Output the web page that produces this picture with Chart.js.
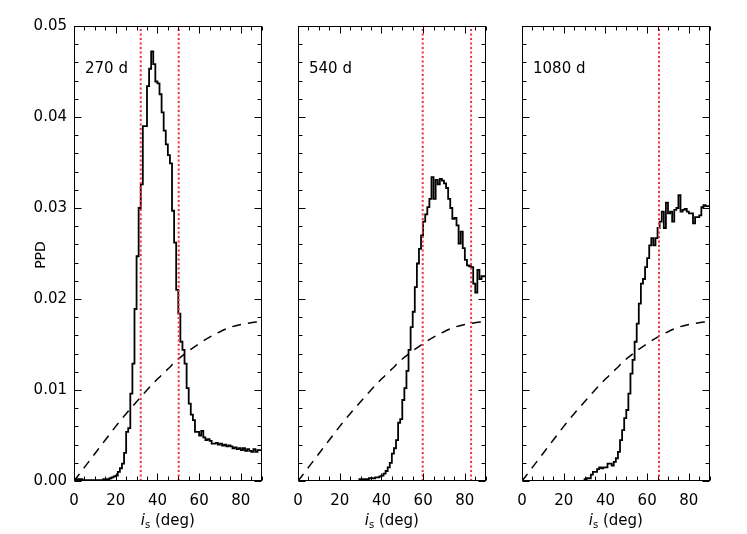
<!DOCTYPE html>
<html>
<head>
<meta charset="utf-8">
<script src="https://cdn.jsdelivr.net/npm/chart.js@4.4.1/dist/chart.umd.min.js"></script>
<style>
  body { margin: 0; background: #fff; }
  #wrap { position: relative; width: 747px; height: 534px; }
  #wrap canvas { position: absolute; left: 0; top: 0; }
</style>
</head>
<body>
<div id="wrap">
  <canvas id="c0" width="747" height="534"></canvas>
  <canvas id="c1" width="747" height="534"></canvas>
  <canvas id="c2" width="747" height="534"></canvas>
</div>
<script>
// --- Daten ---
const panelLabels = ['270 d', '540 d', '1080 d'];
const binWidth = 1; // deg

// PPD je 1-Grad-Bin, beginnend bei histStart
const histStart = [0, 29, 30];
const ppd270 = [
  0.0002, 0.0002, 0.0002, 0.0002, 0.0002, 0.0001, 0.0001, 0.0001, 0.0001, 0.0001,
  0.0001, 0.0001, 0.0001, 0.0001, 0.0001, 0.0002, 0.0002, 0.0002, 0.0003, 0.0004,
  0.0005, 0.0006, 0.0010, 0.0014, 0.0019, 0.0031, 0.0054, 0.0058, 0.0096, 0.0129,
  0.0189, 0.0247, 0.0300, 0.0326, 0.0390, 0.0390, 0.0434, 0.0453, 0.0472, 0.0458,
  0.0439, 0.0437, 0.0425, 0.0405, 0.0385, 0.0370, 0.0358, 0.0349, 0.0297, 0.0262,
  0.0210, 0.0184, 0.0153, 0.0144, 0.0129, 0.0102, 0.0085, 0.0073, 0.0067, 0.0054,
  0.0054, 0.0050, 0.0055, 0.0048, 0.0045, 0.0046, 0.0044, 0.0041, 0.0041, 0.0042,
  0.0040, 0.0041, 0.0039, 0.0040, 0.0038, 0.0039, 0.0038, 0.0036, 0.0037, 0.0035,
  0.0036, 0.0034, 0.0036, 0.0033, 0.0035, 0.0033, 0.0032, 0.0035, 0.0032, 0.0034
];
const ppd540 = [
  0.0002, 0.0002, 0.0002, 0.0002, 0.0002, 0.0002, 0.0003, 0.0003, 0.0003, 0.0004,
  0.0004, 0.0005, 0.0006, 0.0008, 0.0011, 0.0015, 0.0020, 0.0030, 0.0036, 0.0045,
  0.0064, 0.0068, 0.0089, 0.0102, 0.0121, 0.0144, 0.0169, 0.0186, 0.0213, 0.0239,
  0.0255, 0.0270, 0.0285, 0.0293, 0.0301, 0.0310, 0.0334, 0.0310, 0.0331, 0.0326,
  0.0332, 0.0330, 0.0327, 0.0322, 0.0310, 0.0300, 0.0288, 0.0289, 0.0281, 0.0261,
  0.0274, 0.0256, 0.0243, 0.0237, 0.0236, 0.0235, 0.0217, 0.0207, 0.0232, 0.0222,
  0.0225
];
const ppd1080 = [
  0.0001, 0.0002, 0.0003, 0.0003, 0.0007, 0.0010, 0.0010, 0.0013, 0.0015, 0.0014,
  0.0015, 0.0015, 0.0019, 0.0019, 0.0017, 0.0021, 0.0025, 0.0032, 0.0045, 0.0056,
  0.0069, 0.0078, 0.0096, 0.0118, 0.0133, 0.0153, 0.0173, 0.0195, 0.0217, 0.0222,
  0.0235, 0.0245, 0.0259, 0.0267, 0.0259, 0.0267, 0.0278, 0.0285, 0.0296, 0.0278,
  0.0306, 0.0294, 0.0296, 0.0285, 0.0298, 0.0300, 0.0314, 0.0296, 0.0298, 0.0299,
  0.0296, 0.0294, 0.0294, 0.0283, 0.0290, 0.0290, 0.0292, 0.0301, 0.0303, 0.0302
];

// gestrichelte Kurve (in allen drei Feldern gleich)
const priorAngles = [0, 5, 10, 15, 20, 25, 30, 35, 40, 45, 50, 55, 60, 65, 70, 75, 80, 85, 90];
const priorValues = [0, 0.0015, 0.0030, 0.0045, 0.0060, 0.0074, 0.0087, 0.0100, 0.0112, 0.0123,
  0.0134, 0.0143, 0.0151, 0.0158, 0.0164, 0.0169, 0.0172, 0.0174, 0.0175];

// rote gepunktete Linien (deg)
const redLines = [[32.0, 50.2], [59.8, 83.0], [65.7]];

const xTicks = [0, 20, 40, 60, 80];
const yTicks = [0, 0.01, 0.02, 0.03, 0.04, 0.05];
const xRange = [0, 90];
const yRange = [0, 0.05];

// --- Layout ---
const W = 747, H = 534;
const panelLeft = [74, 298, 522];
const panelWidth = 187.7;
const plotTop = 26, plotBottom = 481;
const FONT = '"DejaVu Sans", sans-serif';

const rahmenPlugin = {
  id: 'rahmen',
  afterDatasetsDraw(chart, args, opts) {
    const ctx = chart.ctx;
    const a = chart.chartArea;
    const xs = chart.scales.x, ys = chart.scales.y;
    ctx.save();
    ctx.strokeStyle = '#000';
    ctx.lineWidth = 1;
    const L = Math.round(a.left) + 0.5, R = Math.round(a.right) - 0.5;
    const T = Math.round(a.top) + 0.5, B = Math.round(a.bottom) - 0.5;
    ctx.strokeRect(L, T, R - L, B - T);

    // Striche nach innen, oben/unten
    ctx.beginPath();
    for (let v = xRange[0]; v <= xRange[1] + 1e-9; v += 5) {
      const px = Math.round(xs.getPixelForValue(v)) + 0.5;
      const len = (v % 20 === 0) ? 7 : 4;
      ctx.moveTo(px, B); ctx.lineTo(px, B - len);
      ctx.moveTo(px, T); ctx.lineTo(px, T + len);
    }
    for (let k = 0; k <= 25; k++) {
      const v = k * 0.002;
      const py = Math.round(ys.getPixelForValue(v)) + 0.5;
      const len = (k % 5 === 0) ? 7 : 4;
      ctx.moveTo(L, py); ctx.lineTo(L + len, py);
      ctx.moveTo(R, py); ctx.lineTo(R - len, py);
    }
    ctx.stroke();

    // Beschriftungen
    ctx.fillStyle = '#000';
    ctx.font = '15px ' + FONT;
    ctx.textBaseline = 'alphabetic';
    ctx.textAlign = 'left';
    ctx.fillText(opts.label, a.left + 11, 73);

    // x-Titel: i_s (deg)
    const cx = (a.left + a.right) / 2;
    ctx.font = 'italic 15px ' + FONT;
    const wi = ctx.measureText('i').width;
    ctx.font = '10px ' + FONT;
    const ws = ctx.measureText('s').width;
    ctx.font = '15px ' + FONT;
    const wd = ctx.measureText(' (deg)').width;
    let x0 = cx - (wi + ws + wd) / 2;
    ctx.font = 'italic 15px ' + FONT;
    ctx.fillText('i', x0, 525);
    ctx.font = '10px ' + FONT;
    ctx.fillText('s', x0 + wi, 528);
    ctx.font = '15px ' + FONT;
    ctx.fillText(' (deg)', x0 + wi + ws, 525);

    if (opts.yTitle) {
      ctx.translate(41, 255);
      ctx.rotate(-Math.PI / 2);
      ctx.textAlign = 'center';
      ctx.textBaseline = 'middle';
      ctx.font = '14px ' + FONT;
      ctx.fillText('PPD', 0, 0);
    }
    ctx.restore();
  }
};

function histPunkte(start, values) {
  const pts = values.map((v, i) => ({ x: start + i * binWidth, y: v }));
  pts.push({ x: start + values.length * binWidth, y: values[values.length - 1] });
  return pts;
}

function macheFeld(idx, values) {
  const left = panelLeft[idx];
  const right = left + panelWidth;
  const yAxisW = 40, xAxisH = H - plotBottom;

  const datasets = [];
  redLines[idx].forEach(v => {
    datasets.push({
      data: [{ x: v, y: yRange[0] }, { x: v, y: yRange[1] }],
      borderColor: '#ff2a2a',
      borderWidth: 2,
      borderDash: [2, 2.5],
      pointRadius: 0
    });
  });
  datasets.push({
    data: priorAngles.map((a, i) => ({ x: a, y: priorValues[i] })),
    borderColor: '#000',
    borderWidth: 1.5,
    borderDash: [9, 7],
    cubicInterpolationMode: 'monotone',
    pointRadius: 0
  });
  datasets.push({
    data: histPunkte(histStart[idx], values),
    borderColor: '#000',
    borderWidth: 1.8,
    stepped: 'after',
    pointRadius: 0
  });

  new Chart(document.getElementById('c' + idx), {
    type: 'line',
    data: { datasets },
    options: {
      responsive: false,
      animation: false,
      devicePixelRatio: 1,
      layout: { padding: { left: left - yAxisW, right: W - right, top: plotTop, bottom: 0 } },
      plugins: {
        legend: { display: false },
        tooltip: { enabled: false },
        rahmen: { label: panelLabels[idx], yTitle: idx === 0 }
      },
      scales: {
        x: {
          type: 'linear',
          min: xRange[0], max: xRange[1],
          grid: { display: false, drawTicks: false },
          border: { display: false },
          afterBuildTicks: ax => { ax.ticks = xTicks.map(v => ({ value: v })); },
          afterFit: ax => { ax.height = xAxisH; ax.paddingLeft = ax.paddingRight = 0; },
          ticks: { color: '#000', padding: 11, maxRotation: 0, font: { family: FONT, size: 15 } }
        },
        y: {
          min: yRange[0], max: yRange[1],
          grid: { display: false, drawTicks: false },
          border: { display: false },
          afterBuildTicks: ax => { ax.ticks = yTicks.map(v => ({ value: v })); },
          afterFit: ax => { ax.width = yAxisW; ax.paddingTop = ax.paddingBottom = 0; },
          ticks: {
            display: idx === 0,
            color: '#000', padding: 7,
            font: { family: FONT, size: 15 },
            callback: v => v.toFixed(2)
          }
        }
      }
    },
    plugins: [rahmenPlugin]
  });
}

macheFeld(0, ppd270);
macheFeld(1, ppd540);
macheFeld(2, ppd1080);
</script>
</body>
</html>
